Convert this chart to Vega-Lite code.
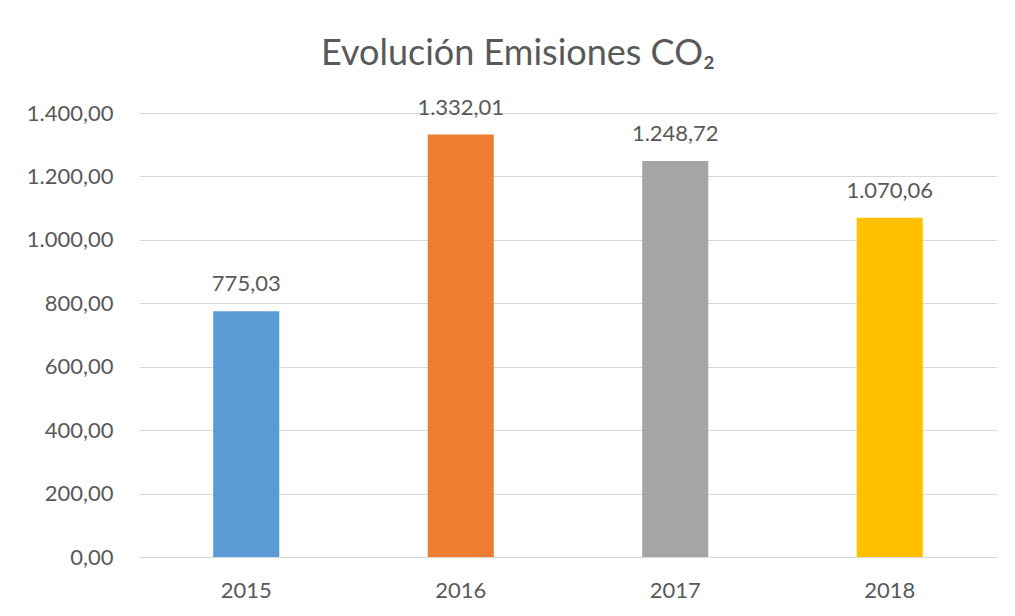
{
  "$schema": "https://vega.github.io/schema/vega-lite/v6.json",
  "autosize": "none",
  "width": 858,
  "height": 444,
  "padding": {"left": 139, "top": 113, "right": 18, "bottom": 59},
  "background": "white",
  "title": {
    "text": "Evolución Emisiones CO₂",
    "frame": "group",
    "anchor": "middle",
    "dx": -50,
    "offset": 0,
    "dy": 4,
    "baseline": "alphabetic",
    "font": "Lato",
    "fontSize": 36,
    "fontWeight": "normal",
    "color": "#595959"
  },
  "data": {
    "values": [
      {"year": "2015", "emisiones": 775.03},
      {"year": "2016", "emisiones": 1332.01},
      {"year": "2017", "emisiones": 1248.72},
      {"year": "2018", "emisiones": 1070.06}
    ]
  },
  "encoding": {
    "x": {
      "field": "year",
      "type": "nominal",
      "scale": {"paddingInner": 0.692, "paddingOuter": 0.346},
      "axis": {
        "title": null,
        "labelAngle": 0,
        "ticks": false,
        "domain": false,
        "grid": false,
        "labelPadding": 23,
        "labelFont": "Lato",
        "labelFontSize": 22,
        "labelColor": "#595959"
      }
    },
    "y": {
      "field": "emisiones",
      "type": "quantitative",
      "scale": {"domain": [0, 1400]},
      "axis": {
        "title": null,
        "values": [0, 200, 400, 600, 800, 1000, 1200, 1400],
        "format": ",.2f",
        "ticks": false,
        "domain": false,
        "grid": true,
        "gridColor": "#D9D9D9",
        "gridWidth": 1.2,
        "labelPadding": 26,
        "labelFont": "Lato",
        "labelFontSize": 22,
        "labelColor": "#595959"
      }
    }
  },
  "layer": [
    {
      "mark": {"type": "bar"},
      "encoding": {
        "color": {
          "field": "year",
          "type": "nominal",
          "scale": {"range": ["#5B9BD5", "#ED7D31", "#A5A5A5", "#FFC000"]},
          "legend": null
        }
      }
    },
    {
      "mark": {
        "type": "text",
        "baseline": "alphabetic",
        "dy": -20,
        "font": "Lato",
        "fontSize": 22,
        "color": "#595959"
      },
      "encoding": {
        "text": {"field": "emisiones", "type": "quantitative", "format": ",.2f"}
      }
    }
  ],
  "config": {
    "view": {"stroke": null},
    "locale": {
      "number": {"decimal": ",", "thousands": ".", "grouping": [3], "currency": ["", " €"]}
    }
  }
}
